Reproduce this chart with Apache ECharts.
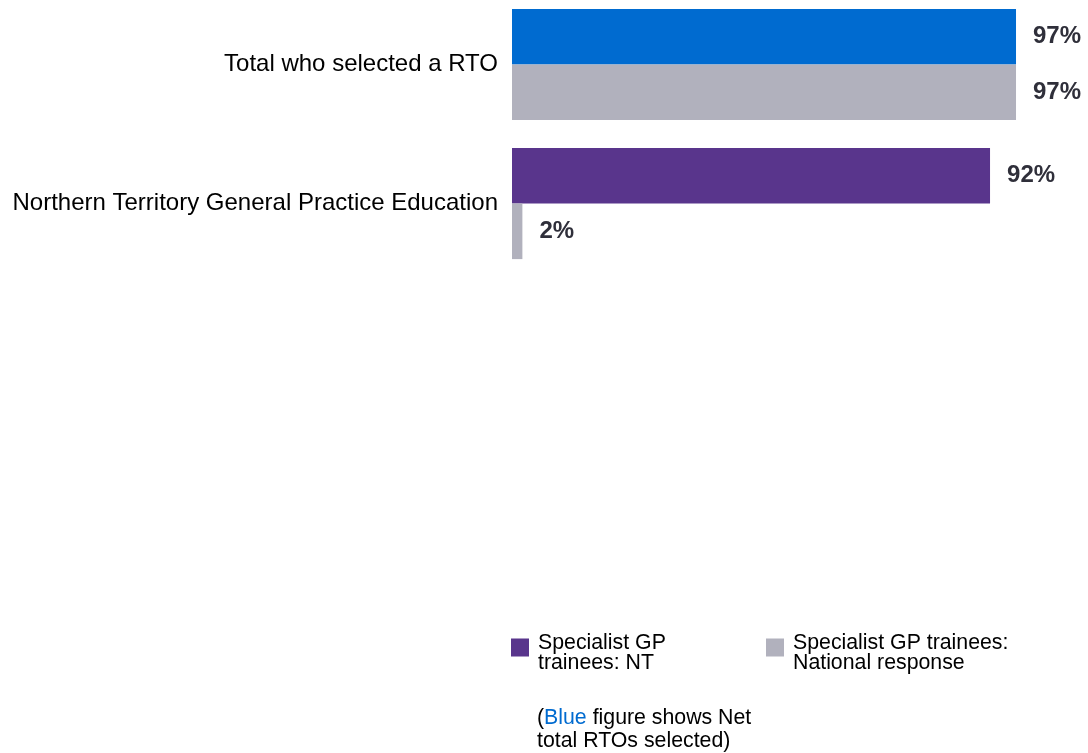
<!DOCTYPE html>
<html>
<head>
<meta charset="utf-8">
<script src="https://cdn.jsdelivr.net/npm/echarts@6/dist/echarts.min.js"></script>
<style>
html,body{margin:0;padding:0;background:#fff;}
#chart{width:1088px;height:753px;}
</style>
</head>
<body>
<div id="chart"></div>
<script>
const categories = ['Total who selected a RTO', 'Northern Territory General Practice Education'];
const seriesNames = ['Specialist GP trainees: NT', 'Specialist GP trainees: National response'];
const ntValues = [97, 92];
const nationalValues = [97, 2];
const legendLabels = ['Specialist GP\ntrainees: NT', 'Specialist GP trainees:\nNational response'];

const FONT = '"Liberation Sans", Arial, sans-serif';
const BLUE = '#006BD0';
const PURPLE = '#59358C';
const GREY = '#B1B1BD';
const LABEL = '#2F2F3A';
// square marker drawn in the upper part of a taller icon box
const ICON = 'path://M0,0L18,0L18,18L0,18ZM0,30L0.01,30';

const chart = echarts.init(document.getElementById('chart'));
const labelCfg = {
  show: true, position: 'right', distance: 17,
  formatter: '{c}%', fontFamily: FONT, fontWeight: 'bold', fontSize: 24, color: LABEL
};
const legendText = { fontFamily: FONT, fontSize: 21.3, color: '#000', lineHeight: 20, padding: [0,0,0,4] };
chart.setOption({
  animation: false,
  backgroundColor: '#fff',
  grid: { left: 512, right: 56.4, top: -5, height: 278, containLabel: false, outerBoundsMode: 'none' },
  xAxis: { type: 'value', min: 0, max: 100, show: false },
  yAxis: {
    type: 'category', data: categories, inverse: true,
    axisLine: { show: false }, axisTick: { show: false }, splitLine: { show: false },
    axisLabel: { margin: 14, fontFamily: FONT, fontSize: 24, color: '#000' }
  },
  legend: [
    { data: [seriesNames[0]], left: 511, top: 633, padding: 0, itemWidth: 18, itemHeight: 30, icon: ICON,
      formatter: () => legendLabels[0], textStyle: legendText },
    { data: [seriesNames[1]], left: 766, top: 633, padding: 0, itemWidth: 18, itemHeight: 30, icon: ICON,
      formatter: () => legendLabels[1], textStyle: legendText }
  ],
  graphic: [{
    type: 'text', left: 537, top: 707,
    style: {
      text: '({b|Blue} figure shows Net\ntotal RTOs selected)',
      font: '21.3px ' + FONT, fill: '#000', lineHeight: 23,
      rich: { b: { fill: BLUE, fontFamily: FONT, fontSize: 21.3, lineHeight: 23 } }
    }
  }],
  series: [
    { name: seriesNames[0], type: 'bar', barGap: 0, barCategoryGap: '20%',
      itemStyle: { color: PURPLE },
      data: ntValues.map((v, i) => i === 0 ? { value: v, itemStyle: { color: BLUE } } : v),
      label: labelCfg },
    { name: seriesNames[1], type: 'bar', barGap: 0, barCategoryGap: '20%',
      itemStyle: { color: GREY }, data: nationalValues, label: labelCfg }
  ]
});
</script>
</body>
</html>
